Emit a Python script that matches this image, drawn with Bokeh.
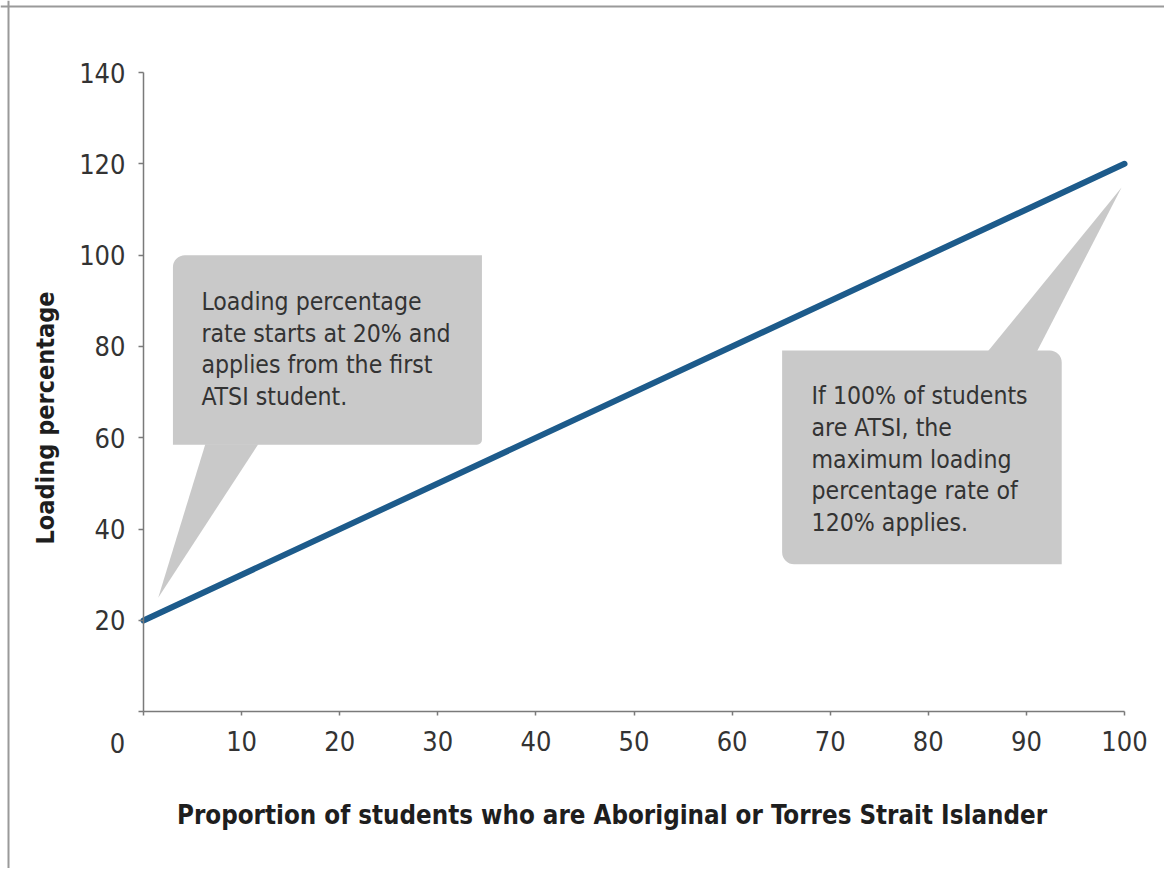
from bokeh.plotting import figure
from bokeh.models import Label, Span, FixedTicker, ColumnDataSource, Range1d
from bokeh.embed import file_html
from bokeh.resources import INLINE

# ---- data ----
share_pct = [0, 100]          # proportion of ATSI students (%)
loading_pct = [20, 120]       # loading percentage
x_ticks = [0, 10, 20, 30, 40, 50, 60, 70, 80, 90, 100]
y_ticks = [0, 20, 40, 60, 80, 100, 120, 140]
x_title = "Proportion of students who are Aboriginal or Torres Strait Islander"
y_title = "Loading percentage"
note_start = "Loading percentage\nrate starts at 20% and\napplies from the first\nATSI student."
note_end = "If 100% of students\nare ATSI, the\nmaximum loading\npercentage rate of\n120% applies."

# ---- layout (pixels) ----
W, H = 1164, 868
AX_LEFT, AX_RIGHT = 143, 1124      # x=0 and x=100
AX_BOTTOM, AX_TOP = 711.3, 72      # y=0 and y=140
sx = (AX_RIGHT - AX_LEFT) / 100.0
sy = (AX_BOTTOM - AX_TOP) / 140.0
x_lo, x_hi = -AX_LEFT / sx, (W - AX_LEFT) / sx
y_hi, y_lo = AX_BOTTOM / sy, -(H - AX_BOTTOM) / sy

FONT = "'Liberation Sans Narrow', 'DejaVu Sans Condensed', sans-serif"
TXT = "#333333"
GREY = "#c9c9c9"
LINE = "#1d5b8b"

p = figure(width=W, height=H, x_range=Range1d(x_lo, x_hi), y_range=Range1d(y_lo, y_hi),
           output_backend="svg", toolbar_location=None, title=None,
           min_border_left=0, min_border_right=0, min_border_top=0, min_border_bottom=0)
p.outline_line_color = None
p.xgrid.visible = False
p.ygrid.visible = False

# page border (top and left)
p.add_layout(Span(location=(8 - AX_LEFT) / sx, dimension="height",
                  line_color="#9a9a9a", line_width=2))
p.add_layout(Span(location=(AX_BOTTOM - 6) / sy, dimension="width",
                  line_color="#9a9a9a", line_width=2))

# axes
for ax in (p.xaxis[0], p.yaxis[0]):
    ax.fixed_location = 0
    ax.axis_line_color = "#7a7a7a"
    ax.axis_line_width = 1.5
    ax.major_tick_line_color = "#7a7a7a"
    ax.major_tick_line_width = 1.5
    ax.minor_tick_line_color = None
    ax.major_label_text_font = FONT
    ax.major_label_text_font_size = "27px"
    ax.major_label_text_color = TXT
p.xaxis.bounds = (0, 100)
p.yaxis.bounds = (0, 140)
p.xaxis.ticker = FixedTicker(ticks=x_ticks)
p.yaxis.ticker = FixedTicker(ticks=y_ticks)
p.xaxis.major_tick_in = 0
p.xaxis.major_tick_out = 4
p.yaxis.major_tick_in = 0
p.yaxis.major_tick_out = 5
p.xaxis.major_label_standoff = 15
p.yaxis.major_label_standoff = 13
p.xaxis.major_label_overrides = {0: ""}
p.yaxis.major_label_overrides = {0: ""}

# origin label
p.add_layout(Label(x=0, y=0, text="0", x_offset=-26, y_offset=-31,
                   text_align="center", text_baseline="middle",
                   text_font=FONT, text_font_size="27px", text_color=TXT))

# callout 1 (start)
x0, y0 = share_pct[0], loading_pct[0]
p.quad(left=[x0 + 3.0], right=[x0 + 34.5], bottom=[y0 + 38.5], top=[y0 + 80.0],
       fill_color=GREY, line_color=None, border_radius=(12, 0, 5, 0))
p.patch([x0 + 6.3, x0 + 11.7, x0 + 1.5], [y0 + 38.6, y0 + 38.6, y0 + 5.0],
        fill_color=GREY, line_color=None)
p.add_layout(Label(x=x0 + 5.9, y=y0 + 73.1, text=note_start, text_align="left",
                   text_baseline="top", text_font=FONT, text_font_size="24.6px",
                   text_color=TXT, text_line_height=1.1))

# callout 2 (end)
x1, y1 = share_pct[1], loading_pct[1]
p.quad(left=[x1 - 34.9], right=[x1 - 6.4], bottom=[y1 - 87.7], top=[y1 - 40.9],
       fill_color=GREY, line_color=None, border_radius=(0, 12, 0, 12))
p.patch([x1 - 13.9, x1 - 8.9, x1 - 0.3], [y1 - 41.0, y1 - 41.0, y1 - 5.2],
        fill_color=GREY, line_color=None)
p.add_layout(Label(x=x1 - 31.9, y=y1 - 47.5, text=note_end, text_align="left",
                   text_baseline="top", text_font=FONT, text_font_size="24.6px",
                   text_color=TXT, text_line_height=1.1))

# the line
src = ColumnDataSource(dict(x=share_pct, y=loading_pct))
p.line("x", "y", source=src, line_color=LINE, line_width=6, line_cap="round")

# axis titles
p.add_layout(Label(x=(611.5 - AX_LEFT) / sx, y=(AX_BOTTOM - 814) / sy, text=x_title,
                   text_align="center", text_baseline="middle", text_font=FONT,
                   text_font_style="bold", text_font_size="25.7px", text_color="#1e1e1e"))
p.add_layout(Label(x=(45 - AX_LEFT) / sx, y=(AX_BOTTOM - 417.5) / sy, text=y_title,
                   text_align="center", text_baseline="middle", angle=1.5708,
                   text_font=FONT, text_font_style="bold", text_font_size="25px",
                   text_color="#1e1e1e"))

open("out.html", "w").write(file_html(p, INLINE))
